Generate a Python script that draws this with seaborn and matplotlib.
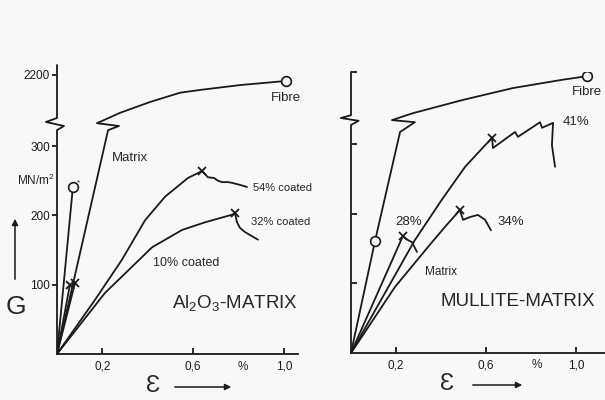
import numpy as np
import matplotlib
matplotlib.use("Agg")
import matplotlib.pyplot as plt
import seaborn as sns

# ---------------- data (strain in %, stress in MN/m^2) ----------------
# Al2O3 matrix panel
al_fibre_strain = [0, 0.225, 0.273, 0.176, 0.278, 0.41, 0.542, 0.630, 0.806, 1.009]
al_fibre_stress = [0, 323, 329, 333, 692, 1120, 1487, 1597, 1789, 1953]
al_sigma_strain = [0, 0.070]
al_sigma_stress = [0, 241]
al_a_strain = [0, 0.057]
al_a_stress = [0, 100]
al_b_strain = [0, 0.079]
al_b_stress = [0, 102]
al_54_strain = [0, 0.167, 0.286, 0.388, 0.476, 0.577, 0.639]
al_54_stress = [0, 78, 136, 193, 227, 254, 264]
al_54_tail_strain = [0.639, 0.665, 0.692, 0.709, 0.727, 0.753, 0.771, 0.806, 0.837]
al_54_tail_stress = [264, 255, 254, 250, 248, 248, 247, 244, 241]
al_32_strain = [0, 0.211, 0.419, 0.551, 0.652, 0.771, 0.784]
al_32_stress = [0, 88, 154, 179, 190, 201, 203]
al_32_tail_strain = [0.784, 0.793, 0.806, 0.828, 0.859, 0.885]
al_32_tail_stress = [203, 190, 182, 176, 170, 165]

# Mullite matrix panel
mu_fibre_strain = [0, 0.107, 0.218, 0.284, 0.182, 0.276, 0.498, 0.72, 0.942, 1.049]
mu_fibre_stress = [0, 161, 317, 331, 334, 582, 1103, 1569, 1898, 2035]
mu_28_strain = [0, 0.231]
mu_28_stress = [0, 168]
mu_28_tail_strain = [0.236, 0.253, 0.271, 0.293]
mu_28_tail_stress = [166, 162, 159, 145]
mu_41_strain = [0, 0.284, 0.404, 0.507, 0.596, 0.627]
mu_41_stress = [0, 162, 220, 267, 298, 308]
mu_41_tail_strain = [0.627, 0.631, 0.729, 0.742, 0.84, 0.849, 0.898, 0.893, 0.907]
mu_41_tail_stress = [308, 294, 317, 310, 331, 323, 330, 298, 267]
mu_34_strain = [0, 0.196, 0.342, 0.418, 0.484]
mu_34_stress = [0, 95, 152, 181, 205]
mu_34_tail_strain = [0.484, 0.498, 0.529, 0.564, 0.596, 0.622]
mu_34_tail_stress = [205, 191, 195, 198, 191, 176]

y_ticks = [100, 200, 300, 2200]
y_tick_labels = ["100", "200", "300", "2200"]
x_ticks = [0.2, 0.6, 1.0]
x_tick_labels = ["0,2", "0,6", "1,0"]

# ---------------- style ----------------
sns.set_theme(style="white")
plt.rcParams["font.family"] = ["Liberation Sans", "DejaVu Sans"]
plt.rcParams["mathtext.default"] = "regular"
BG = "#f8f8f8"
LW = 1.3

# broken y scale
B = 335.0
K = 0.03646


def fwd(v):
    v = np.asarray(v, dtype=float)
    return np.where(v <= B, v, B + (v - B) * K)


def inv(s):
    s = np.asarray(s, dtype=float)
    return np.where(s <= B, s, B + (s - B) / K)


fig = plt.figure(figsize=(6.05, 4.0), dpi=100, facecolor=BG)
axL = fig.add_axes([57 / 605, 46 / 400, 241 / 605, 289 / 400])
axR = fig.add_axes([351 / 605, 47 / 400, 254 / 605, 281 / 400])

for ax in (axL, axR):
    ax.set_facecolor(BG)
    ax.set_yscale("function", functions=(fwd, inv))
    for s in ("top", "right", "left"):
        ax.spines[s].set_visible(False)
    ax.spines["bottom"].set_linewidth(LW)
    ax.spines["bottom"].set_color("k")


def line(ax, xs, ys):
    sns.lineplot(x=xs, y=ys, sort=False, estimator=None, color="k",
                 lw=LW, ax=ax, legend=False)


def xmark(ax, x, y):
    ax.plot([x], [y], marker="x", ms=6, mew=1.3, color="k", ls="none")


def omark(ax, x, y):
    ax.plot([x], [y], marker="o", ms=7, mew=1.2, mfc=BG, mec="k", ls="none", zorder=5)


# ---- left panel ----
axL.set_xlim(0, 241 / 227)
axL.set_ylim(0, 2584)
line(axL, al_fibre_strain, al_fibre_stress)
omark(axL, al_fibre_strain[-1], al_fibre_stress[-1])
line(axL, al_sigma_strain, al_sigma_stress)
omark(axL, al_sigma_strain[-1], al_sigma_stress[-1])
axL.text(al_sigma_strain[-1] + 0.018, al_sigma_stress[-1] + 6, "*", fontsize=6, ha="left", va="center")
line(axL, al_a_strain, al_a_stress)
xmark(axL, al_a_strain[-1], al_a_stress[-1])
line(axL, al_b_strain, al_b_stress)
xmark(axL, al_b_strain[-1], al_b_stress[-1])
line(axL, al_54_strain, al_54_stress)
xmark(axL, al_54_strain[-1], al_54_stress[-1])
line(axL, al_54_tail_strain, al_54_tail_stress)
line(axL, al_32_strain, al_32_stress)
xmark(axL, al_32_strain[-1], al_32_stress[-1])
line(axL, al_32_tail_strain, al_32_tail_stress)

# broken left axis line
axL.plot([0, 0, 0.029, -0.046, 0, 0], [0, 323, 329, 334.8, 486, 2584],
         transform=axL.get_yaxis_transform(), clip_on=False, color="k", lw=LW)
axL.set_yticks(y_ticks)
axL.set_yticklabels(y_tick_labels)
axL.tick_params(axis="y", direction="out", length=3.5, width=LW, pad=1.5,
                labelsize=8.5, left=True, colors="k")
axL.set_xticks(x_ticks)
axL.set_xticklabels(x_tick_labels)
axL.tick_params(axis="x", direction="in", length=4, width=LW, pad=5,
                labelsize=8.5, bottom=True, colors="k")
axL.minorticks_off()
axL.text(0.819, -0.045, "%", transform=axL.get_xaxis_transform(), ha="center", va="center", fontsize=8.5)

axL.text(0.242, 283, "Matrix", fontsize=9.5, ha="left", va="center")
axL.text(0.943, 1268, "Fibre", fontsize=9.5, ha="left", va="center")
axL.text(0.863, 240, "54% coated", fontsize=8, ha="left", va="center")
axL.text(0.855, 190, "32% coated", fontsize=8, ha="left", va="center")
axL.text(0.423, 131, "10% coated", fontsize=9, ha="left", va="center")
axL.text(0.507, 66, "Al$_2$O$_3$-MATRIX", fontsize=13.5, ha="left", va="baseline")

# ---- right panel ----
axR.set_xlim(0, 254 / 225)
axR.set_ylim(0, 2200)
line(axR, mu_fibre_strain, mu_fibre_stress)
omark(axR, mu_fibre_strain[1], mu_fibre_stress[1])
omark(axR, mu_fibre_strain[-1], mu_fibre_stress[-1])
line(axR, mu_28_strain, mu_28_stress)
xmark(axR, mu_28_strain[-1], mu_28_stress[-1])
line(axR, mu_28_tail_strain, mu_28_tail_stress)
line(axR, mu_41_strain, mu_41_stress)
xmark(axR, mu_41_strain[-1], mu_41_stress[-1])
line(axR, mu_41_tail_strain, mu_41_tail_stress)
line(axR, mu_34_strain, mu_34_stress)
xmark(axR, mu_34_strain[-1], mu_34_stress[-1])
line(axR, mu_34_tail_strain, mu_34_tail_stress)

axR.plot([0, 0, 0.03, -0.04, 0, 0], [0, 327, 333, 390, 500, 2200],
         transform=axR.get_yaxis_transform(), clip_on=False, color="k", lw=LW)
axR.set_yticks(y_ticks)
axR.set_yticklabels([])
axR.tick_params(axis="y", direction="in", length=4.5, width=LW, left=True, colors="k")
axR.set_xticks(x_ticks)
axR.set_xticklabels(x_tick_labels)
axR.tick_params(axis="x", direction="in", length=4, width=LW, pad=5,
                labelsize=8.5, bottom=True, colors="k")
axR.minorticks_off()
axR.text(0.827, -0.043, "%", transform=axR.get_xaxis_transform(), ha="center", va="center", fontsize=8.5)

axR.text(0.196, 188, "28%", fontsize=9.5, ha="left", va="center")
axR.text(0.653, 188, "34%", fontsize=9.5, ha="left", va="center")
axR.text(0.942, 331, "41%", fontsize=9.5, ha="left", va="center")
axR.text(0.982, 1405, "Fibre", fontsize=9.5, ha="left", va="center")
axR.text(0.329, 116, "Matrix", fontsize=8.5, ha="left", va="center")
axR.text(0.396, 67, "MULLITE-MATRIX", fontsize=13.5, ha="left", va="baseline")

# ---- axis labels ----
fig.text(36 / 605, 1 - 180 / 400, "MN/m$^2$", fontsize=8.5, ha="center", va="center")
fig.text(16 / 605, 1 - 307 / 400, "G", fontsize=19, ha="center", va="center")
fig.patches.append(matplotlib.patches.FancyArrowPatch(
    (15 / 605, 1 - 282 / 400), (15 / 605, 1 - 216 / 400), transform=fig.transFigure,
    arrowstyle="-|>", mutation_scale=9, lw=1.1, color="k"))
fig.text(153 / 605, 1 - 386 / 400, "Ɛ", fontsize=17, ha="center", va="center")
fig.patches.append(matplotlib.patches.FancyArrowPatch(
    (172 / 605, 1 - 387 / 400), (234 / 605, 1 - 387 / 400), transform=fig.transFigure,
    arrowstyle="-|>", mutation_scale=9, lw=1.1, color="k"))
fig.text(447 / 605, 1 - 384 / 400, "Ɛ", fontsize=17, ha="center", va="center")
fig.patches.append(matplotlib.patches.FancyArrowPatch(
    (470 / 605, 1 - 385 / 400), (525 / 605, 1 - 385 / 400), transform=fig.transFigure,
    arrowstyle="-|>", mutation_scale=9, lw=1.1, color="k"))

fig.savefig("out.png", dpi=100, facecolor=BG)
